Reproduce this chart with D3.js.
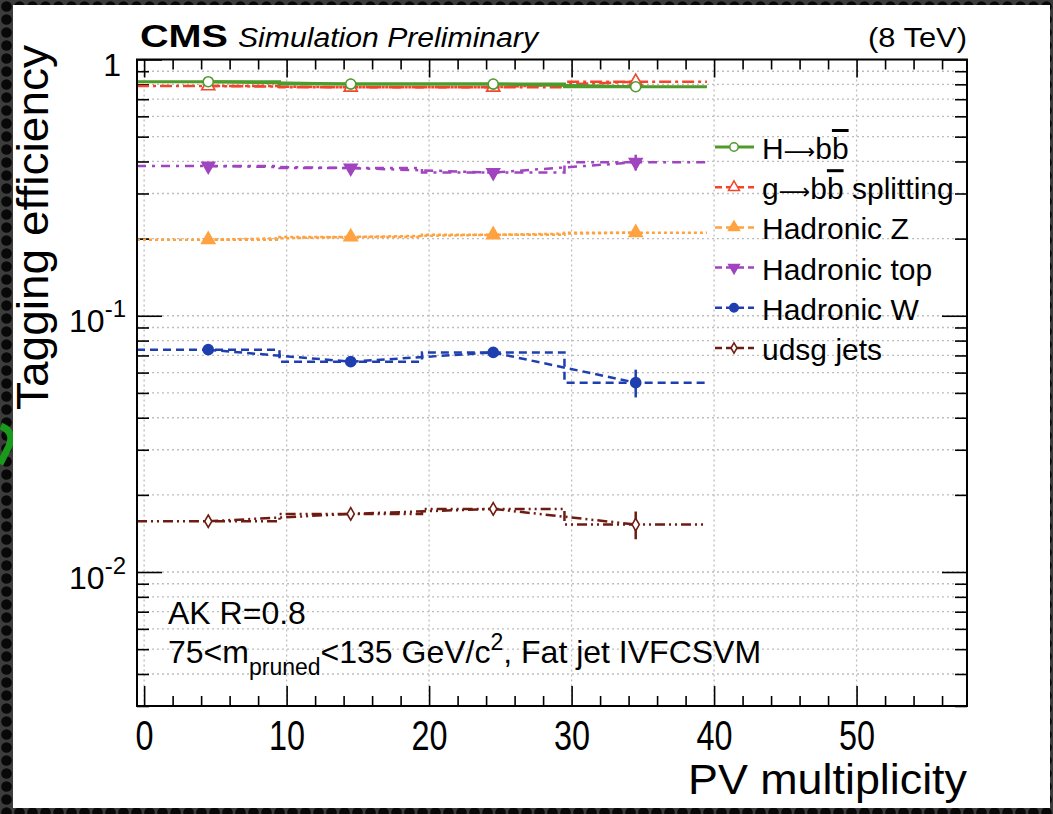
<!DOCTYPE html>
<html><head><meta charset="utf-8">
<script src="https://cdn.jsdelivr.net/npm/d3@7"></script>
<style>
html,body{margin:0;padding:0;background:#222;}
svg{display:block;}
text{font-family:"Liberation Sans", Arial, Helvetica, sans-serif; fill:#000;}
</style></head><body>
<svg id="c" width="1053" height="814"></svg>
<script>
// ---------------- data ----------------
const binCenters = [4.5, 14.5, 24.5, 34.5];
const binEdges = [-0.5, 9.5, 19.5, 29.5, 39.5];

const effHbb  = [0.819, 0.802, 0.802, 0.783];
const errHbb  = [0.006, 0.005, 0.006, 0.012];
const effGbb  = [0.788, 0.779, 0.779, 0.819];
const errGbb  = [0.008, 0.008, 0.010, 0.030];
const effZ    = [0.198, 0.203, 0.207, 0.211];
const errZ    = [0.002, 0.002, 0.002, 0.006];
const effTop  = [0.384, 0.377, 0.362, 0.397];
const errTop  = [0.006, 0.005, 0.006, 0.028];
const effW    = [0.0737, 0.0662, 0.0719, 0.0548];
const errW    = [0.0027, 0.0010, 0.0015, 0.0068];
const effUdsg = [0.01578, 0.01686, 0.01763, 0.01532];
const errUdsg = [0.0006, 0.0003, 0.0004, 0.0019];

const legendLabels = ["H⟶bb̄", "g⟶bb̄ splitting", "Hadronic Z", "Hadronic top", "Hadronic W", "udsg jets"];

const xTickValues = [0,2,4,6,8,10,12,14,16,18,20,22,24,26,28,30,32,34,36,38,40,42,44,46,48,50,52,54,56];
const xMajorValues = [0,10,20,30,40,50];
const xTickLabels = ["0","10","20","30","40","50"];
const yTickValues = [0.003,0.004,0.005,0.006,0.007,0.008,0.009,
                     0.01,0.02,0.03,0.04,0.05,0.06,0.07,0.08,0.09,
                     0.1,0.2,0.3,0.4,0.5,0.6,0.7,0.8,0.9,1];
const yMajorValues = [0.01, 0.1, 1];
const yLabelBase = ["1", "10", "10"];
const yLabelExp  = ["", "-1", "-2"];
const yLabelValues = [1, 0.1, 0.01];

// ---------------- styles ----------------
const series = [
  {eff: effUdsg, err: errUdsg, color:"#6e1c12", dash:"10,4,2,4,2,4", sym:"diamond", open:true,  w:2.5},
  {eff: effW,    err: errW,    color:"#1f3fb0", dash:"8,5",          sym:"circle",  open:false, w:2.5},
  {eff: effTop,  err: errTop,  color:"#a044bf", dash:"9,6,3,6",      sym:"tridown", open:false, w:2.5},
  {eff: effZ,    err: errZ,    color:"#ffa23f", dash:"3,3",          sym:"triup",   open:false, w:2.5},
  {eff: effGbb,  err: errGbb,  color:"#f2452b", dash:"12,4,3,4",     sym:"triup",   open:true,  w:2.5},
  {eff: effHbb,  err: errHbb,  color:"#4e9b2b", dash:null,           sym:"circle",  open:true,  w:3}
];
const legendOrder = [5,4,3,2,1,0];

const svg = d3.select("#c");

// background
const defs = svg.append("defs");
const pat = defs.append("pattern").attr("id","holes").attr("width",13).attr("height",13).attr("patternUnits","userSpaceOnUse");
pat.append("rect").attr("width",13).attr("height",13).attr("fill","#3c3c3c");
pat.append("circle").attr("cx",6.5).attr("cy",6.5).attr("r",5.3).attr("fill","#080808");
svg.append("rect").attr("width",1053).attr("height",814).attr("fill","url(#holes)");
svg.append("path").attr("d","M1 426 Q 15 432 9 446 Q 3 458 0 464").attr("fill","none").attr("stroke","#1a9a1a").attr("stroke-width",7);
svg.append("rect").attr("x",13).attr("y",5).attr("width",1037).attr("height",803).attr("fill","#fff");

// scales
const x = d3.scaleLinear().domain([-0.5, 57.75]).range([137, 967]);
const y = d3.scaleLog().domain([0.003, 1]).range([706, 59.5]);

// grid
const grid = svg.append("g").attr("stroke","#bdbdbd").attr("stroke-width",1.3).attr("stroke-dasharray","2,3");
grid.selectAll("line.gx").data(xMajorValues).join("line")
  .attr("x1",d=>x(d)).attr("x2",d=>x(d)).attr("y1",y(1)).attr("y2",706);
grid.selectAll("line.gy").data(yTickValues.filter(v=>v<1)).join("line")
  .attr("x1",137).attr("x2",967).attr("y1",d=>y(d)).attr("y2",d=>y(d));

// axes ticks
function styleTicks(g, isMajor, len, sign, dir){
  g.select(".domain").remove();
  g.selectAll(".tick line").attr("stroke","#000").attr("stroke-width",1.6)
    .attr(dir, d => sign*(isMajor(d) ? len[0] : len[1]));
}
const isXMaj = d => xMajorValues.includes(d);
const isYMaj = d => yMajorValues.some(v=>Math.abs(v-d)<1e-9);
svg.append("g").attr("transform","translate(0,706)")
  .call(d3.axisBottom(x).tickValues(xTickValues).tickFormat(""))
  .call(g=>styleTicks(g,isXMaj,[20,10],-1,"y2"));
svg.append("g").attr("transform",`translate(0,${y(1)})`)
  .call(d3.axisTop(x).tickValues(xTickValues).tickFormat(""))
  .call(g=>styleTicks(g,isXMaj,[18,10],1,"y2"));
svg.append("g").attr("transform","translate(137,0)")
  .call(d3.axisLeft(y).tickValues(yTickValues).tickFormat(""))
  .call(g=>styleTicks(g,isYMaj,[25,12],1,"x2"));
svg.append("g").attr("transform","translate(967,0)")
  .call(d3.axisRight(y).tickValues(yTickValues).tickFormat(""))
  .call(g=>styleTicks(g,isYMaj,[25,12],-1,"x2"));

// x tick labels
const xl = svg.append("g").attr("transform","translate(0,706)")
  .call(d3.axisBottom(x).tickValues(xMajorValues).tickSize(0).tickFormat((d,i)=>xTickLabels[i]));
xl.select(".domain").remove();
xl.selectAll("text").attr("y",44).attr("dy",null)
  .style("font-size","43px").style("font-family",'"Liberation Sans", Arial, sans-serif').attr("fill","#000")
  .attr("textLength",(d,i)=>xTickLabels[i].length*18).attr("lengthAdjust","spacingAndGlyphs");

// y tick labels
yLabelValues.forEach((v,i)=>{
  const t = svg.append("text").attr("text-anchor","end")
    .attr("x", i===0 ? 121 : 126).attr("y", y(v)+16.5).style("font-size","32px");
  t.append("tspan").text(yLabelBase[i]);
  if (yLabelExp[i]) t.append("tspan").attr("dy",-15).style("font-size","24px").text(yLabelExp[i]);
});

// series
const symMap = {circle:d3.symbolCircle, triup:d3.symbolTriangle, tridown:d3.symbolTriangle, diamond:d3.symbolDiamond};
const symSize = {circle:80, triup:75, tridown:70, diamond:45};
const line = d3.line().x(d=>x(d[0])).y(d=>y(d[1]));
series.forEach(s=>{
  const g = svg.append("g").attr("fill","none").attr("stroke",s.color).attr("stroke-width",s.w);
  const step = [];
  s.eff.forEach((v,i)=>{ step.push([binEdges[i],v]); step.push([binEdges[i+1],v]); });
  g.append("path").datum(step).attr("d",line).attr("stroke-dasharray",s.dash);
  g.append("path").datum(binCenters.map((c,i)=>[c,s.eff[i]])).attr("d",line).attr("stroke-dasharray",s.dash);
  g.selectAll("line.err").data(binCenters).join("line")
    .attr("x1",d=>x(d)).attr("x2",d=>x(d))
    .attr("y1",(d,i)=>y(s.eff[i]+s.err[i])).attr("y2",(d,i)=>y(s.eff[i]-s.err[i]));
  g.selectAll("path.m").data(binCenters).join("path")
    .attr("d", d3.symbol().type(symMap[s.sym]).size(symSize[s.sym]))
    .attr("transform",(d,i)=>`translate(${x(d)},${y(s.eff[i])})${s.sym==="tridown"?" rotate(180)":""}`)
    .attr("fill", s.open ? "#fff" : s.color).attr("stroke-width",1.6).attr("stroke-dasharray",null);
});

// frame
svg.append("rect").attr("x",137).attr("y",y(1)).attr("width",830).attr("height",706-y(1))
  .attr("fill","none").attr("stroke","#000").attr("stroke-width",2);

// legend
const legY = d3.scaleLinear().domain([0,5]).range([147,348]);
legendOrder.forEach((si,k)=>{
  const s = series[si], yy = legY(k);
  const g = svg.append("g");
  g.append("line").attr("x1",715).attr("x2",754).attr("y1",yy).attr("y2",yy)
    .attr("stroke",s.color).attr("stroke-width",s.w).attr("stroke-dasharray",s.dash ? "7,4" : null);
  g.append("path").attr("d", d3.symbol().type(symMap[s.sym]).size(symSize[s.sym]*0.7))
    .attr("transform",`translate(734,${yy})${s.sym==="tridown"?" rotate(180)":""}`)
    .attr("fill", s.open ? "#fff" : s.color).attr("stroke",s.color).attr("stroke-width",1.5);
  const t = g.append("text").attr("x",762).attr("y",yy+12).style("font-size","30px");
  const lab = legendLabels[k];
  if (lab.includes("b̄")) {
    const parts = lab.split("b̄");
    const pre = parts[0].split("⟶");
    t.append("tspan").text(pre[0]);
    t.append("tspan").style("font-family",'"DejaVu Sans", sans-serif').style("font-size","22px").text("⟶");
    t.append("tspan").text(pre[1]);
    t.append("tspan").style("text-decoration","overline").text("b");
    t.append("tspan").text(parts[1]);
  } else t.text(lab);
});

// titles
svg.append("text").attr("x",140).attr("y",47).style("font-size","32px").style("font-weight","bold")
  .attr("textLength",88).attr("lengthAdjust","spacingAndGlyphs").text("CMS");
svg.append("text").attr("x",238).attr("y",47).style("font-size","27px").style("font-style","italic")
  .attr("textLength",300).attr("lengthAdjust","spacingAndGlyphs").text("Simulation Preliminary");
svg.append("text").attr("x",868).attr("y",47).style("font-size","27px")
  .attr("textLength",99).attr("lengthAdjust","spacingAndGlyphs").text("(8 TeV)");

// axis titles
svg.append("text").attr("text-anchor","end").attr("transform","translate(48,45) rotate(-90)")
  .style("font-size","45px").attr("textLength",365).attr("lengthAdjust","spacingAndGlyphs").text("Tagging efficiency");
svg.append("text").attr("text-anchor","end").attr("x",967).attr("y",794)
  .style("font-size","43px").attr("textLength",279).attr("lengthAdjust","spacingAndGlyphs").text("PV multiplicity");

// annotations
svg.append("text").attr("x",168).attr("y",624).style("font-size","32px").text("AK R=0.8");
const a2 = svg.append("text").attr("x",168).attr("y",663).style("font-size","32px");
a2.append("tspan").text("75<m");
a2.append("tspan").attr("dy",12).style("font-size","23px").text("pruned");
a2.append("tspan").attr("dy",-12).text("<135 GeV/c");
a2.append("tspan").attr("dy",-13).style("font-size","23px").text("2");
a2.append("tspan").attr("dy",13).text(", Fat jet IVFCSVM");
</script>
</body></html>
